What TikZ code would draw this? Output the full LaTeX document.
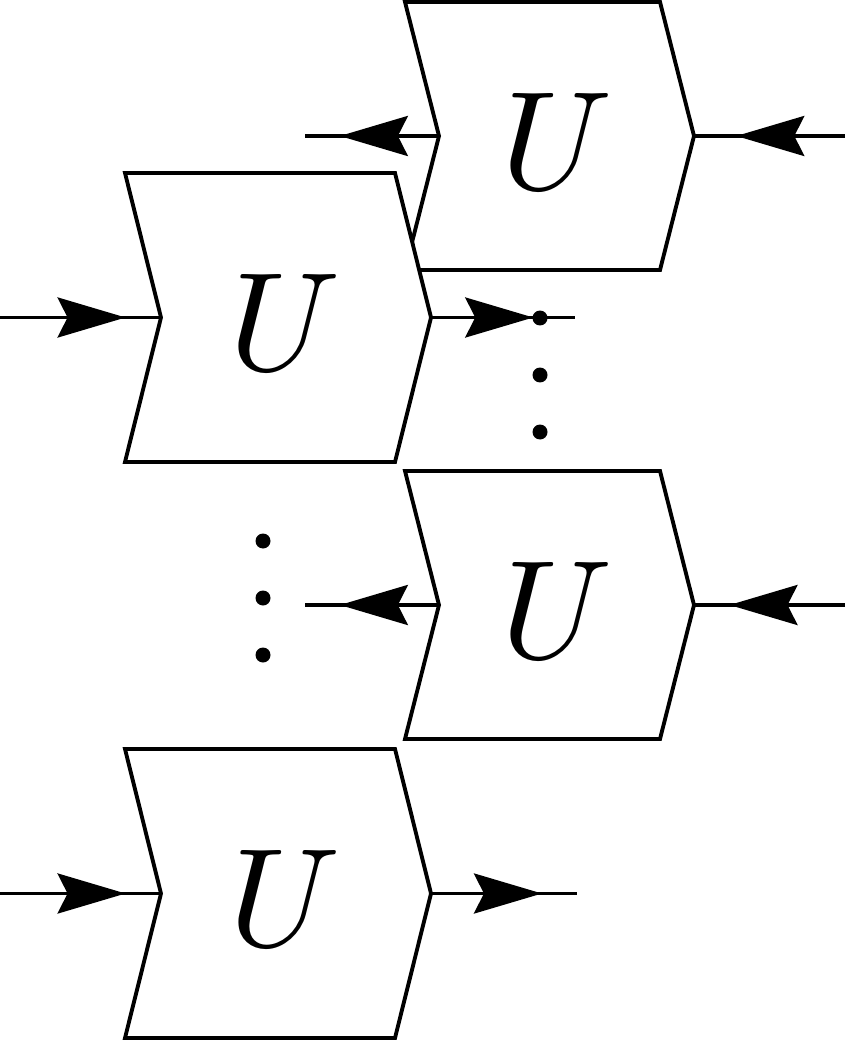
\documentclass[tikz,border=0pt]{standalone}
\usepackage{graphicx}
\usepackage{amsmath}
\usetikzlibrary{positioning,arrows.meta,decorations.markings}

\tikzset{
  chev/.style={draw, line width=2.2pt, fill=white},
  wire/.style={line width=2.2pt},
  arrowat/.style={postaction={decorate}, decoration={markings,
      mark=at position #1 with {\arrow{Stealth[length=1.36cm, width=0.8cm, inset=0.2cm]}}}},
  gate/.style={inner sep=0pt}
}

\begin{document}
\begin{tikzpicture}[x = 0.02cm, y = -0.02cm]
  \useasboundingbox (0, 0) rectangle (845, 1040);

  % the four U blocks: name / left / top / width / height / bend
  \foreach \n/\x/\y/\w/\h/\d in {1/405/2/255/268/34, 2/125/173/270/289/36,
                                  3/405/471/255/268/34, 4/125/749/270/289/36}{
    \draw[chev] (\x, \y) -- (\x+\w, \y) -- (\x+\w+\d, \y+\h/2)
      -- (\x+\w, \y+\h) -- (\x, \y+\h) -- (\x+\d, \y+\h/2) -- cycle;
    \coordinate (in\n) at (\x+\d, \y+\h/2);
    \coordinate (out\n) at (\x+\w+\d, \y+\h/2);
    \node[gate] (U\n) at (\x+\w/2+25, \y+\h/2+5) {
      \scalebox{8}{
        $U$
      }
    };
  }

  \coordinate (left1) at (305, 136);
  \coordinate (right1) at (845, 136);
  \coordinate (left2) at (0, 317.5);
  \coordinate (right2) at (575, 317.5);
  \coordinate (left3) at (305, 605);
  \coordinate (right3) at (845, 605);
  \coordinate (left4) at (0, 893.5);
  \coordinate (right4) at (577, 893.5);

  \draw[wire, arrowat=0.74] (in1) -- (left1);
  \draw[wire, arrowat=0.72] (right1) -- (out1);

  \draw[wire, arrowat=0.78] (left2) -- (in2);
  \draw[wire, arrowat=0.71] (out2) -- (right2);

  \draw[wire, arrowat=0.74] (in3) -- (left3);
  \draw[wire, arrowat=0.765] (right3) -- (out3);

  \draw[wire, arrowat=0.78] (left4) -- (in4);
  \draw[wire, arrowat=0.76] (out4) -- (right4);

  % dots
  \foreach \y in {318, 375, 432}{
    \fill (540, \y) circle[radius=0.15cm];
  }
  \foreach \y in {541, 598, 655}{
    \fill (263, \y) circle[radius=0.15cm];
  }
\end{tikzpicture}
\end{document}
